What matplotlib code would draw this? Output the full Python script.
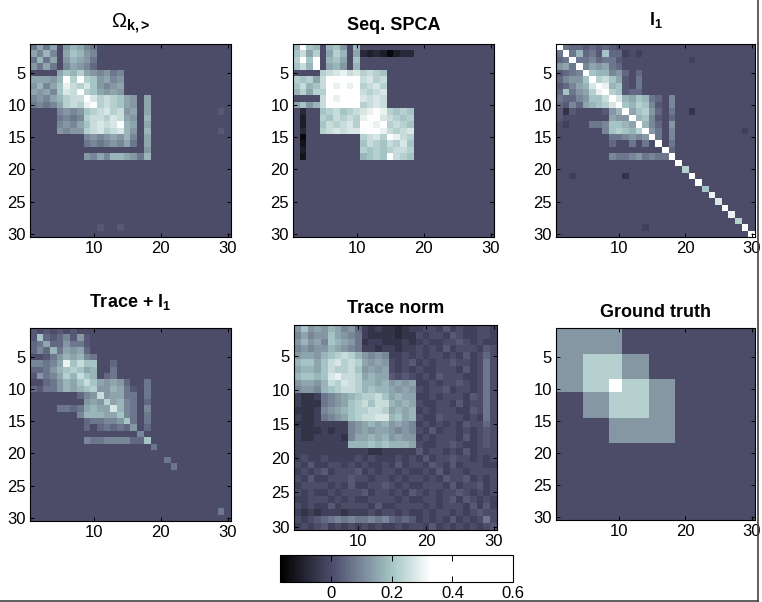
import numpy as np
import matplotlib
matplotlib.use("Agg")
import matplotlib.pyplot as plt
from matplotlib.colors import ListedColormap
from matplotlib.lines import Line2D

plt.rcParams['font.family'] = ['Liberation Sans', 'DejaVu Sans']
plt.rcParams['mathtext.fontset'] = 'custom'
plt.rcParams['mathtext.rm'] = 'Liberation Sans'
plt.rcParams['mathtext.bf'] = 'Liberation Sans:bold'
plt.rcParams['mathtext.it'] = 'Liberation Sans:italic'

# ---- value code: each character is one cell value ----
LEVEL_CHARS = "fedcba0123456789ABCDE"
LEVEL_VALUES = [-0.15, -0.125, -0.1, -0.075, -0.05, -0.025, 0.0,
                0.025, 0.05, 0.075, 0.1, 0.125, 0.15, 0.175, 0.2, 0.225,
                0.25, 0.275, 0.3, 0.325, 0.35]

TITLES = [r'$\Omega_{\mathbf{k{,}>}}$', 'Seq. SPCA', r'$\mathbf{l_1}$',
          r'Trace + $\mathbf{l_1}$', 'Trace norm', 'Ground truth']
TITLE_SIZES = [14.5, 13, 13, 13, 13, 13]
X_TICKS = [10, 20, 30]
Y_TICKS = [5, 10, 15, 20, 25, 30]
CBAR_TICKS = [0, 0.2, 0.4, 0.6]
CBAR_LABELS = ['0', '0.2', '0.4', '0.6']

OMEGA = [
    "3636" "0" "57643",
    "6474" "0" "68754",
    "3736" "0" "57653",
    "5363" "0" "46542",
    "0000" "6" "87965" "4534",
    "6665" "7" "E9E98" "5645",
    "5746" "8" "CA9B8" "5456",
    "6564" "8" "BAD98" "6565",
    "4546" "7" "9AAEB" "9A98" "65" "0" "6",
    "3434" "6" "9A9CD" "9A98" "65" "0" "6",
    "0000" "4545" "89AB" "9A" "56" "0" "6" "0000000000" "1",
    "0000" "3434" "9AA9" "BA" "65" "0" "7",
    "0000" "4546" "8ABA" "BD" "76" "0" "6",
    "0000" "5455" "9AB9" "AB" "75" "0" "7" "0000000000" "1",
    "00000000" "4545" "65" "74" "0" "6",
    "00000000" "3434" "54" "63" "0" "6",
    "00000000" "0000" "00" "00" "0" "5",
    "00000000" "5464" "77" "65" "3" "7",
    *[""] * 10,
    "0000000000" "1" "00" "1",
    "",
]

SPCA = [
    "7E87" "0" "785" "0" "7",
    "8A69" "0" "697" "0" "6" "cdcdfdcc",
    "9E8E" "0" "786" "0" "8",
    "8A7E" "0" "675" "0" "7",
    "0000" "9" "ABCAB" "9A98",
    "9896" "A" "EEEEE" "AB9A",
    "8A78" "A" "ECECE" "9AB9",
    "7969" "9" "EEEEE" "A9AB",
    "0000" "A" "ECEEE" "BABA",
    "6857" "A" "EEEEE" "9ABA",
    "0c00" "8" "9A89A" "BCDC" "9898",
    "0d00" "9" "8A9A9" "CDEB" "A989",
    "0d00" "8" "A9AB9" "EDCE" "9A98",
    "0c00" "9" "ABABB" "DEEC" "A9AB",
    "0f00" "0" "00000" "9AB9" "ECA9",
    "0e00" "0" "00000" "8A98" "A9B8",
    "0d00" "0" "00000" "9898" "9AA9",
    "0e00" "0" "00000" "7898" "DA98",
    *[""] * 12,
]

L1 = [
    "E32212121",
    "3E37231822a0a",
    "23E3342331" "0000000000" "a",
    "563E465632",
    "1234E87745202",
    "24558E9A86103",
    "12467BEC78103",
    "283569CE98122",
    "3224588AEB76873204",
    "21426789BE87984104",
    "1b10000157E689520300b",
    "10000000655E784102",
    "0a0003348876E74205",
    "0000000489879E5304" "0000000000" "a",
    "00000000334545E304",
    "000000002003030E03",
    "0000000000000000E2",
    "00000000433453433E",
    "0" * 18 + "E",
    "0" * 19 + "9",
    "00a0000000b000000000E",
    "0" * 21 + "D",
    "0" * 22 + "8",
    "0" * 23 + "C",
    "0" * 24 + "B",
    "0" * 25 + "D",
    "0" * 26 + "C",
    "0" * 27 + "9",
    "0" * 13 + "a" + "0" * 14 + "E",
    "0" * 29 + "E",
]

TRACE_L1 = [
    "1010101000",
    "182124151",
    "236225331",
    "2427365620",
    "0013576743",
    "44346C8A88002",
    "2235789867003",
    "1534697A87023",
    "00235768A865652003",
    "213357678955763103",
    "0000000245A5663303",
    "000000005659674302",
    "000033236766B74304",
    "000000047776684303",
    "000000002334458303",
    "000000002023232502",
    "0" * 16 + "4",
    "000000004334444228",
    "0" * 18 + "3",
    "",
    "0" * 20 + "3",
    "0" * 21 + "3",
    *[""] * 6,
    "0" * 28 + "3",
    "",
]

TRACE_NORM = [
    "5856" "576452" "abab" "bcba" "a00a1a0aa00a",
    "4645" "586543" "abbb" "bcbb" "0a00a10aa00a",
    "5756" "487653" "baab" "bbab" "a0aa0010a0aa",
    "4545" "576543" "aaba" "abaa" "0a0a1a000a10",
    "5665" "789A97" "5454" "aa0a" "0a00a0a1a020",
    "7886" "8AB9A9" "6565" "0a01" "a0a00100a030",
    "6776" "8A99A8" "5656" "0a0a" "0aa000a1a030",
    "7887" "8BCAA9" "6766" "1010" "a0a1000aa030",
    "5665" "7A9BA9" "7767" "5656" "aa0a0010a030",
    "4554" "789AA9" "7877" "6565" "0a001a00a030",
    "abba" "345678" "99A8" "6766" "aa0a000a1030",
    "abbb" "345689" "A8AA" "7676" "0aa00a1a0030",
    "bbba" "456789" "9AA9" "6767" "a0a000aa1030",
    "abba" "345689" "AABB" "7867" "0aa1000a0a30",
    "bbba" "aaaa45" "6767" "5654" "a0a0a0a10020",
    "abbb" "abaa45" "6566" "5454" "0a1a00a0a010",
    "abba" "aaab46" "6767" "5655" "a0a000a1a010",
    "aaaa" "aaaa77" "7878" "7776" "0aa0010aa010",
    "aaaa" "aaaaaa" "abba" "aaaa" "1a00a0a1a000",
    "a0aa" "0aaaa0" "a0aa" "a0a0" "a1a00100a0a0",
    "0a1a" "a00a0a" "0aa0" "a1a0" "0a10a1a000aa",
    "a0a0" "1a0001" "a0a0" "0a0a" "a0a1a00a0000",
    "0a1a" "a00010" "0a00" "a0a0" "0a0a1001a0a0",
    "a000" "0a0a1a" "a001" "0a0a" "a000a1a001a0",
    "0a0a" "a0a000" "1a00" "a0a1" "0a0a0010a0a0",
    "aa00" "0a0a0a" "a000" "0a0a" "a00a01a10a0a",
    "0a0a" "a1a000" "0a1a" "a000" "0a0a000a1a1a",
    "abab" "aaabaa" "a0a0" "0a0a" "a0a00a0a0100",
    "0a01" "234343" "3434" "2121" "a0a0a1a0a030",
    "a0a0" "1a0a0a" "0a0a" "a0a0" "0a1a0a0a0a01",
]

TRUTH = [
    "5555555555",
    "5555555555",
    "5555555555",
    "5555555555",
    "5555" "999999" "5555",
    "5555" "999999" "5555",
    "5555" "999999" "5555",
    "5555" "999999" "5555",
    "5555" "9999" "EE" "9999" "5555",
    "5555" "9999" "EE" "9999" "5555",
    "0000" "5555" "999999" "5555",
    "0000" "5555" "999999" "5555",
    "0000" "5555" "999999" "5555",
    "0000" "5555" "999999" "5555",
    "00000000" "5555555555",
    "00000000" "5555555555",
    "00000000" "5555555555",
    "00000000" "5555555555",
    *[""] * 12,
]

LEVEL = dict(zip(LEVEL_CHARS, LEVEL_VALUES))


def grid(rows):
    assert len(rows) == 30, len(rows)
    out = []
    for r in rows:
        assert len(r) <= 30, (r, len(r))
        out.append([LEVEL[c] for c in r.ljust(30, '0')])
    return np.array(out)


PANELS = [OMEGA, SPCA, L1, TRACE_L1, TRACE_NORM, TRUTH]

# ---- colour map: bone that saturates to white near 0.33 ----
VMIN, VMAX, VWHITE = -0.17, 0.6, 0.33
bone = plt.get_cmap('bone')
vals = np.linspace(VMIN, VMAX, 512)
cmap = ListedColormap([bone(min((v - VMIN) / (VWHITE - VMIN), 1.0)) for v in vals])

W, H = 762, 602
fig = plt.figure(figsize=(W / 100, H / 100), dpi=100)


def add_ax(x0, y0, x1, y1):
    return fig.add_axes([x0 / W, 1 - y1 / H, (x1 - x0) / W, (y1 - y0) / H])


RECTS = [(30, 44, 231, 237), (293, 44, 494, 237), (556, 44, 755, 237),
         (30, 328, 231, 521), (294, 325, 497, 530), (556, 328, 755, 520)]
TITLE_BASE = [28, 30, 25, 307, 313, 317]

im = None
for data, rect, title, tsize, tb in zip(PANELS, RECTS, TITLES, TITLE_SIZES, TITLE_BASE):
    ax = add_ax(*rect)
    im = ax.imshow(grid(data), cmap=cmap, vmin=VMIN, vmax=VMAX, aspect='auto',
                   interpolation='nearest', extent=(0.5, 30.5, 30.5, 0.5))
    ax.set_xlim(0.5, 30.5)
    ax.set_ylim(30.5, 0.5)
    ax.set_xticks(X_TICKS)
    ax.set_yticks(Y_TICKS)
    ax.tick_params(direction='in', top=True, right=True, length=3, width=0.7,
                   labelsize=12, colors='black')
    ax.tick_params(axis='x', pad=3)
    ax.tick_params(axis='y', pad=3)
    for s in ax.spines.values():
        s.set_linewidth(0.8)
    fig.text((rect[0] + rect[2]) / 2 / W, 1 - tb / H, title, ha='center',
             va='baseline', fontsize=tsize, fontweight='bold')

cax = add_ax(280, 555, 513, 582)
cb = fig.colorbar(im, cax=cax, orientation='horizontal', ticks=CBAR_TICKS)
cb.ax.set_xticklabels(CBAR_LABELS)
cb.ax.tick_params(direction='in', top=True, bottom=True, length=4, width=0.7,
                  labelsize=12, pad=3)
cb.outline.set_linewidth(0.8)

fig.add_artist(Line2D([758 / W, 758 / W], [0, 1], color='#444444', lw=1.2))
fig.add_artist(Line2D([0, 758 / W], [0.8 / H, 0.8 / H], color='#444444', lw=1.2))

fig.savefig('out.png', dpi=100)
